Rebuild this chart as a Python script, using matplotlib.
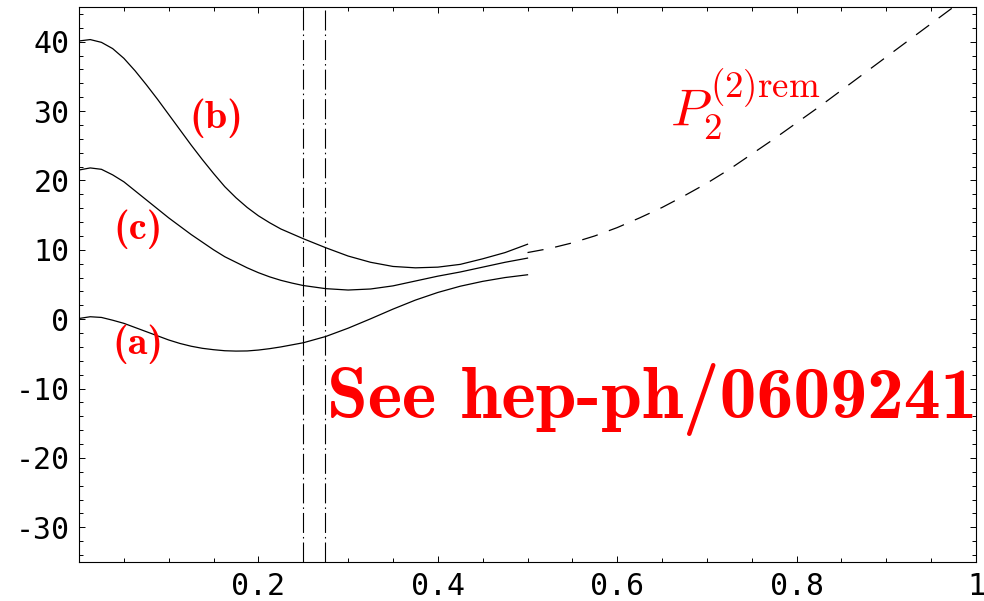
import matplotlib
matplotlib.use("Agg")
import matplotlib.pyplot as plt
from matplotlib.ticker import MultipleLocator

plt.rcParams['mathtext.fontset'] = 'cm'
plt.rcParams['axes.unicode_minus'] = False

# curves
x_sol = [0, 0.0125, 0.025, 0.0375, 0.05, 0.0625, 0.075, 0.0875, 0.1, 0.1125,
         0.125, 0.1375, 0.15, 0.1625, 0.175, 0.1875, 0.2, 0.2125, 0.225, 0.2375,
         0.25, 0.275, 0.3, 0.325, 0.35, 0.375, 0.4, 0.425, 0.45, 0.475, 0.5]
y_a = [0.1, 0.35, 0.25, -0.15, -0.6, -1.2, -1.8, -2.4, -3.0, -3.5,
       -3.9, -4.2, -4.4, -4.55, -4.6, -4.58, -4.45, -4.25, -4.0, -3.7,
       -3.4, -2.5, -1.3, 0.05, 1.45, 2.75, 3.85, 4.75, 5.45, 6.0, 6.4]
y_b = [40.1, 40.3, 39.9, 39.0, 37.6, 35.8, 33.8, 31.7, 29.5, 27.3,
       25.1, 23.0, 21.0, 19.1, 17.5, 16.1, 14.9, 13.9, 13.0, 12.3,
       11.6, 10.3, 9.1, 8.2, 7.6, 7.4, 7.5, 7.9, 8.7, 9.6, 10.8]
y_c = [21.5, 21.8, 21.6, 20.8, 19.8, 18.5, 17.2, 15.9, 14.6, 13.4,
       12.2, 11.1, 10.0, 9.0, 8.2, 7.4, 6.7, 6.1, 5.6, 5.2,
       4.85, 4.4, 4.2, 4.35, 4.8, 5.5, 6.2, 6.8, 7.5, 8.2, 8.8]

x_rem = [0.5, 0.525, 0.55, 0.575, 0.6, 0.625, 0.65, 0.675, 0.7, 0.725, 0.75,
         0.775, 0.8, 0.825, 0.85, 0.875, 0.9, 0.925, 0.95, 0.975, 1.0]
y_rem = [9.6, 10.2, 11.0, 12.0, 13.2, 14.6, 16.1, 17.8, 19.6, 21.6, 23.8,
         26.0, 28.3, 30.6, 33.0, 35.4, 37.8, 40.2, 42.6, 45.0, 47.4]

x_vlines = [0.25, 0.274]

fig = plt.figure(figsize=(9.84, 6.01), dpi=100)
ax = fig.add_axes([0.0803, 0.0649, 0.9116, 0.9235])

for yy in (y_a, y_b, y_c):
    ax.plot(x_sol, yy, color='black', lw=0.9)
ax.plot(x_rem, y_rem, color='black', lw=0.9, dashes=(13, 9.5))
for xv in x_vlines:
    ax.axvline(xv, color='black', lw=0.8, dashes=(18, 3.6, 1.4, 3.6))

ax.set_xlim(0, 1)
ax.set_ylim(-35, 45)
ax.xaxis.set_major_locator(MultipleLocator(0.2))
ax.xaxis.set_minor_locator(MultipleLocator(0.05))
ax.yaxis.set_major_locator(MultipleLocator(10))
ax.yaxis.set_minor_locator(MultipleLocator(2))
ax.set_xticks([0.2, 0.4, 0.6, 0.8, 1.0])
ax.set_xticklabels(['0.2', '0.4', '0.6', '0.8', '1'])
ax.tick_params(which='both', direction='in', top=True, right=True,
               labelsize=21.5, pad=7, width=0.7)
ax.tick_params(which='major', length=4.3)
ax.tick_params(which='minor', length=2.9)
for lab in ax.get_xticklabels() + ax.get_yticklabels():
    lab.set_family('DejaVu Sans Mono')
for sp in ax.spines.values():
    sp.set_linewidth(0.8)

# labels
ax.text(0.153, 28.9, '(b)', color='red', fontfamily='cmb10', fontsize=29,
        ha='center', va='center')
ax.text(0.066, 13.0, '(c)', color='red', fontfamily='cmb10', fontsize=29,
        ha='center', va='center')
ax.text(0.066, -3.6, '(a)', color='red', fontfamily='cmb10', fontsize=29,
        ha='center', va='center')
ax.text(0.659, 27.8, r'$P_2^{(2)\mathrm{rem}}$', color='red', fontsize=38,
        ha='left', va='baseline')
ax.text(0.277, -14.2, 'See hep-ph/0609241', color='red', fontfamily='cmb10',
        fontsize=53, ha='left', va='baseline')

plt.savefig('out.png', dpi=100)
